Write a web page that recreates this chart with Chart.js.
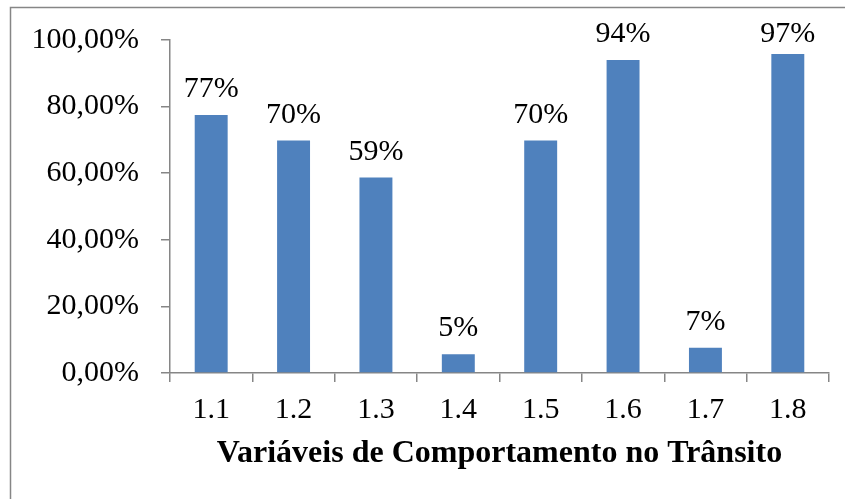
<!DOCTYPE html>
<html>
<head>
<meta charset="utf-8">
<script src="https://cdn.jsdelivr.net/npm/chart.js@4"></script>
<style>
  html, body { margin: 0; padding: 0; background: #fff; }
  #wrap { width: 845px; height: 499px; position: relative; }
</style>
</head>
<body>
<div id="wrap"><canvas id="c" width="845" height="499"></canvas></div>
<script>
const categories = ['1.1', '1.2', '1.3', '1.4', '1.5', '1.6', '1.7', '1.8'];
const values = [77.5, 69.8, 58.7, 5.6, 69.8, 94.0, 7.6, 95.8];
const valueLabels = ['77%', '70%', '59%', '5%', '70%', '94%', '7%', '97%'];
const yTicks = [0, 20, 40, 60, 80, 100];

const FONT = "'Liberation Serif', 'Times New Roman', serif";
const AXIS_GRAY = '#868686';

// outer frame, cut off on the right and bottom like the source
const framePlugin = {
  id: 'frame',
  beforeDraw(chart) {
    const ctx = chart.ctx;
    ctx.save();
    ctx.strokeStyle = AXIS_GRAY;
    ctx.lineWidth = 1.5;
    ctx.beginPath();
    ctx.moveTo(10.5, chart.height + 2);
    ctx.lineTo(10.5, 7.5);
    ctx.lineTo(chart.width + 2, 7.5);
    ctx.stroke();
    ctx.restore();
  },
};

// value labels above each bar
const labelPlugin = {
  id: 'valueLabels',
  afterDatasetsDraw(chart) {
    const ctx = chart.ctx;
    const meta = chart.getDatasetMeta(0);
    ctx.save();
    ctx.font = '30px ' + FONT;
    ctx.fillStyle = '#000';
    ctx.textAlign = 'center';
    ctx.textBaseline = 'alphabetic';
    meta.data.forEach((bar, i) => {
      const y = Math.max(bar.y - 18, chart.chartArea.top + 2);
      ctx.fillText(valueLabels[i], bar.x, y);
    });
    ctx.restore();
  },
};

new Chart(document.getElementById('c'), {
  type: 'bar',
  data: {
    labels: categories,
    datasets: [{
      data: values,
      backgroundColor: '#4F81BD',
      borderWidth: 0,
      barPercentage: 0.4,
      categoryPercentage: 1.0,
    }],
  },
  options: {
    responsive: false,
    animation: false,
    devicePixelRatio: 1,
    layout: { padding: { top: 39, right: 16, left: 0, bottom: 0 } },
    plugins: {
      legend: { display: false },
      tooltip: { enabled: false },
    },
    scales: {
      x: {
        afterFit(scale) { scale.height = 126; },
        grid: {
          offset: true,
          drawOnChartArea: false,
          drawTicks: true,
          tickLength: 9,
          color: AXIS_GRAY,
          lineWidth: 1.5,
        },
        border: { color: AXIS_GRAY, width: 1.5 },
        ticks: {
          color: '#000',
          font: { family: FONT, size: 30 },
          padding: 10,
        },
        title: {
          display: true,
          text: 'Variáveis de Comportamento no Trânsito',
          color: '#000',
          font: { family: FONT, size: 32, weight: 'bold' },
          padding: { top: 0, bottom: 26 },
        },
      },
      y: {
        min: 0,
        max: 100,
        afterFit(scale) { scale.width = 170; },
        afterBuildTicks(scale) { scale.ticks = yTicks.map(v => ({ value: v })); },
        grid: {
          drawOnChartArea: false,
          drawTicks: true,
          tickLength: 9,
          color: AXIS_GRAY,
          lineWidth: 1.5,
        },
        border: { color: AXIS_GRAY, width: 1.5 },
        ticks: {
          color: '#000',
          font: { family: FONT, size: 30 },
          padding: 22,
          callback: v => v.toFixed(2).replace('.', ',') + '%',
        },
      },
    },
  },
  plugins: [framePlugin, labelPlugin],
});
</script>
</body>
</html>
